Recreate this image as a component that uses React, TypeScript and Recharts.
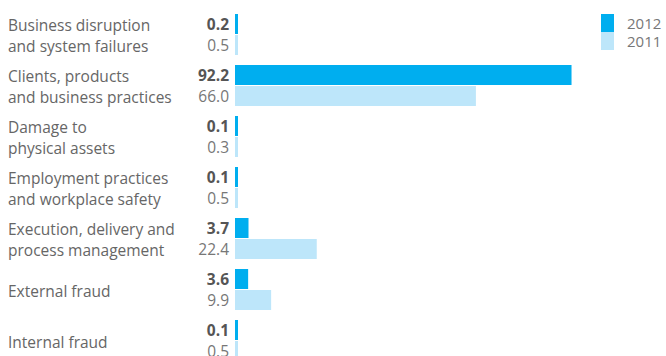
import { BarChart, Bar, XAxis, YAxis, LabelList } from 'recharts';

const categories = [
  'Business disruption\nand system failures',
  'Clients, products\nand business practices',
  'Damage to\nphysical assets',
  'Employment practices\nand workplace safety',
  'Execution, delivery and\nprocess management',
  'External fraud',
  'Internal fraud',
];

const values2012 = [0.2, 92.2, 0.1, 0.1, 3.7, 3.6, 0.1];
const values2011 = [0.5, 66.0, 0.3, 0.5, 22.4, 9.9, 0.5];

const seriesNames = ['2012', '2011'];

const DARK = '#00aeef';
const LIGHT = '#bde6fa';
const FONT = '"Open Sans", "Noto Sans", sans-serif';

const data = categories.map((name, i) => ({
  name,
  y2012: values2012[i],
  y2011: values2011[i],
}));

function CategoryTick({ y, payload }: any) {
  const lines = String(payload.value).split('\n');
  const lineH = 21;
  const start = y + 1 - ((lines.length - 1) * lineH) / 2;
  return (
    <text x={8} y={start} fill="#666" fontSize={15.5} fontFamily={FONT} textAnchor="start">
      {lines.map((l, i) => (
        <tspan key={i} x={8} y={start + i * lineH} dominantBaseline="central">
          {l}
        </tspan>
      ))}
    </text>
  );
}

function valueLabel(bold: boolean) {
  return (props: any) => {
    const { x, y, height, value } = props;
    return (
      <text
        x={x - 6}
        y={y + height / 2}
        textAnchor="end"
        dominantBaseline="central"
        fontSize={15.5}
        fontFamily={FONT}
        fontWeight={bold ? 700 : 400}
        fill={bold ? '#555' : '#777'}
      >
        {Number(value).toFixed(1)}
      </text>
    );
  };
}

function LegendBox() {
  const colors = [DARK, LIGHT];
  return (
    <div style={{ position: 'absolute', left: 601, top: 14, fontFamily: FONT, fontSize: 15, color: '#777' }}>
      {seriesNames.map((s, i) => (
        <div key={s} style={{ display: 'flex', alignItems: 'center', height: 18, lineHeight: '18px' }}>
          <span style={{ display: 'inline-block', width: 13, height: 18, background: colors[i], marginRight: 13 }} />
          <span>{s}</span>
        </div>
      ))}
    </div>
  );
}

export default function App() {
  return (
    <div style={{ position: 'absolute', left: 0, top: 0, width: 666, height: 356, overflow: 'hidden', background: '#fff' }}>
      <BarChart
        width={666}
        height={366}
        data={data}
        layout="vertical"
        margin={{ top: 9, right: 66, left: 0, bottom: 0 }}
        barSize={20}
        barGap={1}
      >
        <XAxis type="number" domain={[0, 100]} hide />
        <YAxis
          type="category"
          dataKey="name"
          width={235}
          axisLine={false}
          tickLine={false}
          tick={<CategoryTick />}
          interval={0}
        />
        <Bar dataKey="y2012" name="2012" fill={DARK} minPointSize={3} isAnimationActive={false}>
          <LabelList dataKey="y2012" content={valueLabel(true)} />
        </Bar>
        <Bar dataKey="y2011" name="2011" fill={LIGHT} minPointSize={3} isAnimationActive={false}>
          <LabelList dataKey="y2011" content={valueLabel(false)} />
        </Bar>
      </BarChart>
      <LegendBox />
    </div>
  );
}
